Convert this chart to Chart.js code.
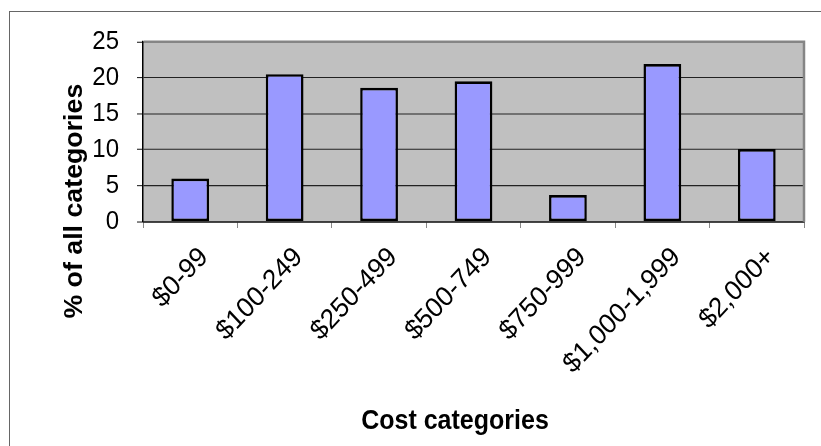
<!DOCTYPE html>
<html>
<head>
<meta charset="utf-8">
<title>Cost categories</title>
<script src="https://cdn.jsdelivr.net/npm/chart.js@4.4.1/dist/chart.umd.min.js"></script>
<style>
  html, body { margin: 0; padding: 0; background: #fff; }
  .frame { position: relative; width: 821px; height: 446px; overflow: hidden; }
  /* chart border only shows on the top and left edges */
  .frame::before {
    content: '';
    position: absolute;
    left: 9px; top: 11px; right: -4px; bottom: -4px;
    border-top: 1px solid #666;
    border-left: 1px solid #666;
  }
  canvas { position: absolute; left: 0; top: 0; }
</style>
</head>
<body>
<div class="frame"><canvas id="costChart" width="821" height="446"></canvas></div>
<script>
const categories = ['$0-99', '$100-249', '$250-499', '$500-749', '$750-999', '$1,000-1,999', '$2,000+'];
const percentages = [6.0, 20.5, 18.6, 19.5, 3.7, 21.9, 10.1];
const yTicks = [0, 5, 10, 15, 20, 25];
const xTitle = 'Cost categories';
const yTitle = '% of all categories';

const FONT = '"Liberation Sans", Arial, sans-serif';
// the whole drawing is stretched a little in height (tall, narrow lettering)
const STRETCH = 1.07;
const H = 446;
const innerH = H / STRETCH;

const excelLook = {
  id: 'excelLook',
  beforeDraw(chart) {
    const { ctx, chartArea: a } = chart;
    ctx.save();
    ctx.scale(1, STRETCH);
    ctx.fillStyle = '#c0c0c0';
    ctx.fillRect(a.left, a.top, a.right - a.left, a.bottom - a.top);
  },
  beforeDatasetsDraw(chart) {
    // grey frame on top and right of the plot
    const { ctx, chartArea: a } = chart;
    ctx.save();
    ctx.strokeStyle = '#858585';
    ctx.lineWidth = 2.5;
    ctx.beginPath();
    ctx.moveTo(a.left + 1, a.top);
    ctx.lineTo(a.right, a.top);
    ctx.lineTo(a.right, a.bottom);
    ctx.stroke();
    ctx.restore();
  },
  afterDraw(chart) {
    const { ctx } = chart;
    ctx.fillStyle = '#000';
    ctx.textAlign = 'center';
    ctx.font = 'bold 25px ' + FONT;
    ctx.textBaseline = 'alphabetic';
    ctx.fillText(xTitle, 455, 401);
    ctx.translate(75, 188);
    ctx.rotate(-Math.PI / 2);
    ctx.font = 'bold 25px ' + FONT;
    ctx.textBaseline = 'middle';
    ctx.fillText(yTitle, 0, 0);
    ctx.restore();
  }
};

const plotTop = 39;
const plotBottom = 207.2;

const ctx = document.getElementById('costChart').getContext('2d');
const chart = new Chart(ctx, {
  type: 'bar',
  data: {
    labels: categories,
    datasets: [{
      data: percentages,
      backgroundColor: '#9999ff',
      borderColor: '#000',
      borderWidth: 2.5,
      borderSkipped: false,
      barPercentage: 0.4,
      categoryPercentage: 1
    }]
  },
  options: {
    responsive: false,
    animation: false,
    devicePixelRatio: 1,
    layout: {
      padding: { left: 0, top: plotTop, right: 17, bottom: H - innerH }
    },
    plugins: {
      legend: { display: false },
      tooltip: { enabled: false }
    },
    scales: {
      x: {
        afterFit(scale) { scale.height = innerH - plotBottom; },
        grid: {
          offset: true,
          drawOnChartArea: false,
          drawTicks: true,
          tickLength: 6,
          tickColor: '#888'
        },
        border: { display: true, color: '#000', width: 1 },
        ticks: {
          autoSkip: false,
          minRotation: 45,
          maxRotation: 45,
          padding: 12,
          labelOffset: 14,
          color: '#000',
          font: { family: FONT, size: 26 }
        }
      },
      y: {
        afterFit(scale) { scale.width = 143; },
        min: yTicks[0],
        max: yTicks[yTicks.length - 1],
        grid: {
          color: '#222',
          tickColor: '#222',
          tickLength: 6,
          lineWidth: 1
        },
        border: { display: true, color: '#000', width: 1.5 },
        ticks: {
          stepSize: yTicks[1] - yTicks[0],
          padding: 18,
          color: '#000',
          font: { family: FONT, size: 24 }
        }
      }
    }
  },
  plugins: [excelLook]
});
</script>
</body>
</html>
